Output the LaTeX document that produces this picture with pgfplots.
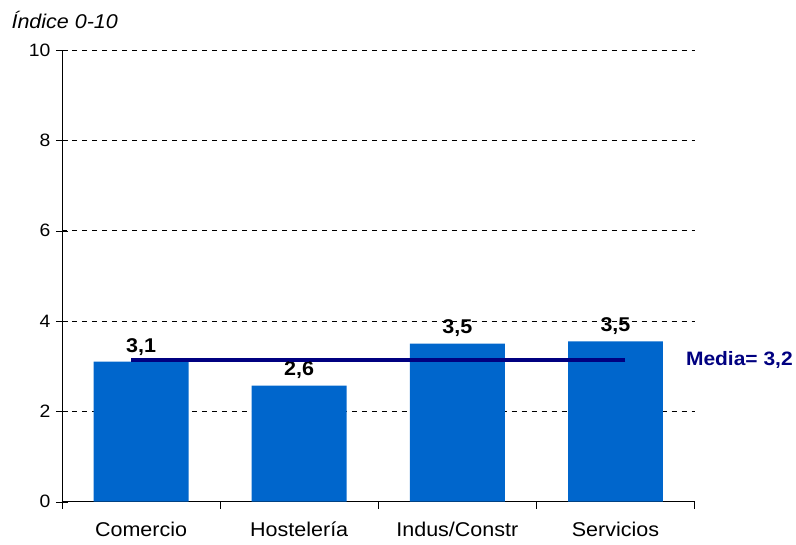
\documentclass[border=0pt]{standalone}
\usepackage{pgfplots}
\pgfplotsset{compat=1.18}
\usepackage{fontspec}
\setmainfont[FakeStretch=1.08]{Liberation Sans}
\definecolor{barblue}{HTML}{0066CC}
\definecolor{medianavy}{HTML}{000080}
\begin{document}
\begin{tikzpicture}
\begin{axis}[
    scale only axis,
    width=633bp, height=452bp,
    xmin=-0.5, xmax=3.5,
    ymin=0, ymax=10,
    axis x line*=bottom, axis y line*=left,
    axis line style={-},
    xtick={0,1,2,3},
    xticklabels={Comercio, Hostelería, Indus/Constr, Servicios},
    major x tick style={draw=none},
    minor xtick={-0.5,0.5,1.5,2.5,3.5},
    minor x tick style={black},
    minor tick length=7bp,
    ytick={0,2,4,6,8,10},
    yticklabel={\fontsize{18}{21}\selectfont\pgfmathprintnumber[assume math mode=true]{\tick}},
    major tick length=12bp,
    ytick align=center,
    xtick align=outside,
    tick style={black},
    ymajorgrids,
    grid style={black, dash pattern=on 5bp off 5bp},
    yticklabel style={xshift=-2bp},
    xticklabel style={font=\fontsize{20}{23}\selectfont, text height=15bp, text depth=4bp, yshift=-4bp},
    clip=false,
]
\addplot[ybar, bar width=95bp, fill=barblue, draw=none,
    point meta=explicit symbolic,
    nodes near coords,
    every node near coord/.append style={font=\bfseries\fontsize{20}{23}\selectfont, black, anchor=south, yshift=3bp}]
    coordinates {(0,3.1) [3,1] (1,2.57) [2,6] (2,3.5) [3,5] (3,3.55) [3,5]};
\addplot[medianavy, line width=3.8bp, mark=-, mark size=10bp,
    mark options={line width=4.5bp}]
    coordinates {(0,3.14) (1,3.14) (2,3.14) (3,3.14)};
\node[anchor=west, font=\bfseries\fontsize{19.5}{23}\selectfont, text=medianavy]
    at (axis cs:3.5,3.14) [xshift=-12bp] {Media= 3,2};
\node[anchor=base west, font=\itshape\fontsize{20}{23}\selectfont]
    at (rel axis cs:0,1) [xshift=-54bp, yshift=21bp] {Índice 0-10};
\path[draw=none] (rel axis cs:-0.098,-0.0951) rectangle (rel axis cs:1.1596,1.1106);
\end{axis}
\end{tikzpicture}
\end{document}
